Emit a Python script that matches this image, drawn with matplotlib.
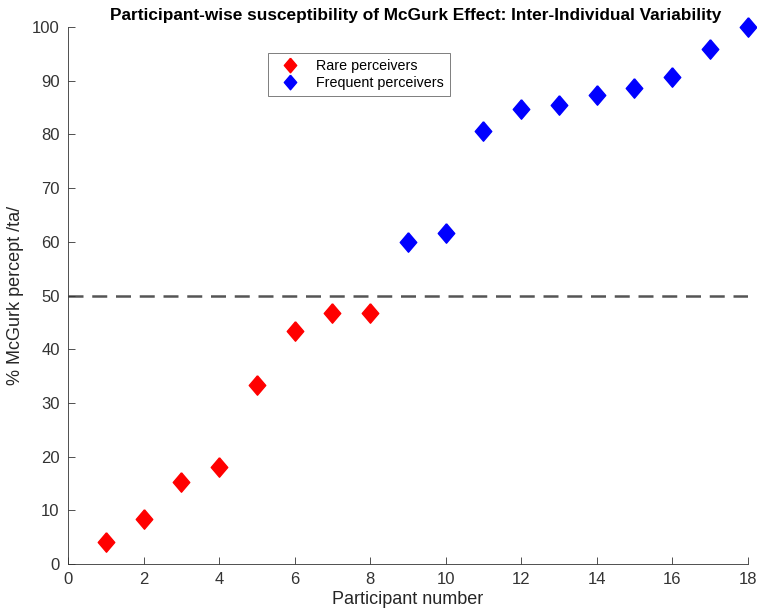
import matplotlib
matplotlib.use("Agg")
import matplotlib.pyplot as plt

plt.rcParams['font.family'] = ['Liberation Sans', 'DejaVu Sans']

# participant scores (% of McGurk /ta/ responses), sorted ascending
rare_ids = [1, 2, 3, 4, 5, 6, 7, 8]
rare_pct = [4.0, 8.3, 15.3, 18.0, 33.3, 43.3, 46.7, 46.7]
freq_ids = [9, 10, 11, 12, 13, 14, 15, 16, 17, 18]
freq_pct = [60.0, 61.7, 80.7, 84.7, 85.5, 87.3, 88.7, 90.7, 96.0, 100.0]
threshold = 50

diamond = [(0, 1), (0.85, 0), (0, -1), (-0.85, 0), (0, 1)]

fig = plt.figure(figsize=(7.57, 6.15), dpi=100)
ax = fig.add_axes([0.0898, 0.083, 0.898, 0.873])

ax.plot([0, 18], [threshold, threshold], '--', color='#555555', linewidth=1.8,
        dashes=(6, 3.5), zorder=1)
ax.plot(rare_ids, rare_pct, linestyle='none', marker=diamond, markersize=14,
        color='red', label='Rare perceivers', zorder=3, clip_on=False)
ax.plot(freq_ids, freq_pct, linestyle='none', marker=diamond, markersize=14,
        color='blue', label='Frequent perceivers', zorder=3, clip_on=False)

ax.set_xlim(0, 18)
ax.set_ylim(0, 100)
ax.set_xticks(range(0, 19, 2))
ax.set_yticks(range(0, 101, 10))
ax.spines['top'].set_visible(False)
ax.spines['right'].set_visible(False)
for s in ('left', 'bottom'):
    ax.spines[s].set_color('#333333')
    ax.spines[s].set_linewidth(0.6)
ax.tick_params(direction='in', length=5, width=0.6, colors='#333333',
               labelsize=12, pad=6)

ax.set_xlabel('Participant number', fontsize=13, color='#262626', labelpad=3)
ax.set_ylabel('% McGurk percept /ta/', fontsize=13, color='#262626', labelpad=6)
ax.set_title('Participant-wise susceptibility of McGurk Effect: Inter-Individual Variability',
             fontsize=12.4, fontweight='bold', pad=5, x=0.512)

leg = ax.legend(loc='upper left', bbox_to_anchor=(0.283, 0.965), fontsize=10.3,
                fancybox=False, edgecolor='#444444', markerscale=0.75,
                handlelength=2.4, borderpad=0.4, labelspacing=0.25,
                handletextpad=0.6)
leg.get_frame().set_linewidth(0.6)

fig.savefig('out.png', dpi=100)
